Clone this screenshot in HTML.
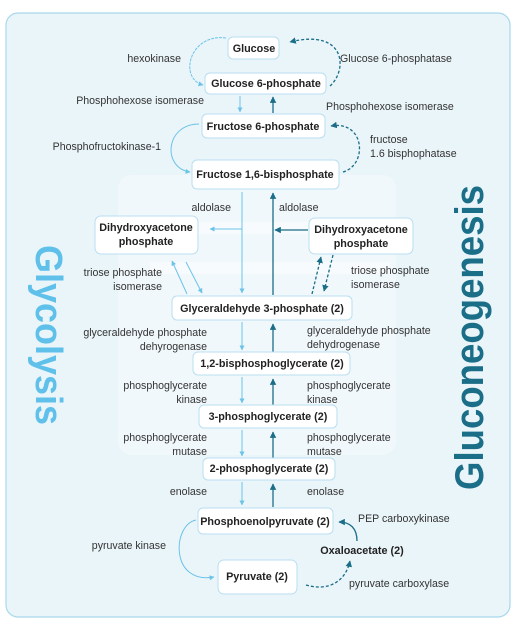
<!DOCTYPE html>
<html><head><meta charset="utf-8"><style>
html,body{margin:0;padding:0;background:#fff;}
svg{display:block;}
text{font-family:"Liberation Sans",sans-serif;fill:#333;}
.l{font-size:10.6px;}
.n{font-size:10.8px;font-weight:bold;fill:#222;}
.box{fill:#fff;stroke:#b9def0;stroke-width:1;}
.lt{stroke:#6cc3e8;stroke-width:1;fill:none;}
.dk{stroke:#1b6e87;stroke-width:1.3;fill:none;}
</style></head><body>
<svg width="517" height="625" viewBox="0 0 517 625" xmlns="http://www.w3.org/2000/svg">
<defs>
<marker id="al" markerWidth="5" markerHeight="5" refX="4.5" refY="2.5" orient="auto"><path d="M0,0 L5,2.5 L0,5 z" fill="#6cc3e8"/></marker>
<marker id="ad" markerWidth="5" markerHeight="5" refX="4.5" refY="2.5" orient="auto"><path d="M0,0 L5,2.5 L0,5 z" fill="#1b6e87"/></marker>
</defs>
<rect x="6" y="13" width="504" height="604" rx="12" fill="#eaf5fa" stroke="#a9d8ec" stroke-width="1.2"/>
<rect x="118" y="175" width="278" height="280" rx="14" fill="#f1f8fc"/>
<g fill="#f7fbfd"><rect x="150" y="222" width="240" height="12"/><rect x="150" y="262" width="240" height="12"/></g>

<text transform="translate(36,245) rotate(90)" font-size="38" font-weight="bold" style="fill:#5fc0ea" textLength="180" lengthAdjust="spacingAndGlyphs">Glycolysis</text>
<text transform="translate(483,490) rotate(-90)" font-size="40" font-weight="bold" style="fill:#1b6e87" textLength="305" lengthAdjust="spacingAndGlyphs">Gluconeogenesis</text>

<path class="lt" d="M226 38 C190 33,178 78,203 85" marker-end="url(#al)" stroke-dasharray="3 1"/>
<path class="dk" d="M330 86 C348 70,346 28,290 42" marker-end="url(#ad)" stroke-dasharray="3 2"/>
<line class="lt" x1="240" y1="96" x2="240" y2="112" marker-end="url(#al)"/>
<line class="dk" x1="273" y1="113" x2="273" y2="97" marker-end="url(#ad)"/>
<path class="lt" d="M199 124 C165 124,162 168,190 172" marker-end="url(#al)"/>
<path class="dk" d="M343 172 C368 165,365 120,331 126" marker-end="url(#ad)" stroke-dasharray="3 2"/>
<line class="lt" x1="242" y1="192" x2="242" y2="293" marker-end="url(#al)"/>
<line class="dk" x1="273" y1="295" x2="273" y2="193" marker-end="url(#ad)"/>
<line class="lt" x1="242" y1="229" x2="210" y2="229" marker-end="url(#al)"/>
<line class="dk" x1="308" y1="230" x2="275" y2="230" marker-end="url(#ad)"/>
<line class="lt" x1="187" y1="294" x2="172" y2="261" marker-end="url(#al)"/>
<line class="lt" x1="186" y1="262" x2="202" y2="293" marker-end="url(#al)"/>
<line class="dk" x1="312" y1="294" x2="321" y2="257" marker-end="url(#ad)" stroke-dasharray="3 2"/>
<line class="dk" x1="333" y1="255" x2="324" y2="291" marker-end="url(#ad)" stroke-dasharray="3 2"/>
<line class="lt" x1="242" y1="322" x2="242" y2="350" marker-end="url(#al)"/>
<line class="dk" x1="273" y1="352" x2="273" y2="324" marker-end="url(#ad)"/>
<line class="lt" x1="242" y1="377" x2="242" y2="403" marker-end="url(#al)"/>
<line class="dk" x1="273" y1="405" x2="273" y2="379" marker-end="url(#ad)"/>
<line class="lt" x1="242" y1="430" x2="242" y2="456" marker-end="url(#al)"/>
<line class="dk" x1="273" y1="458" x2="273" y2="432" marker-end="url(#ad)"/>
<line class="lt" x1="242" y1="482" x2="242" y2="505" marker-end="url(#al)"/>
<line class="dk" x1="273" y1="507" x2="273" y2="484" marker-end="url(#ad)"/>
<path class="lt" d="M196 520 C172 525,170 585,214 577" marker-end="url(#al)"/>
<path class="dk" d="M306 585 C330 592,346 580,350 561" marker-end="url(#ad)" stroke-dasharray="3 2"/>
<path class="dk" d="M357 541 C357 528,350 522,339 522" marker-end="url(#ad)"/>

<rect class="box" x="228" y="37" width="51" height="22" rx="5"/><text class="n" x="254" y="52" text-anchor="middle">Glucose</text>
<rect class="box" x="205" y="73" width="121" height="21" rx="5"/><text class="n" x="266" y="87" text-anchor="middle">Glucose 6-phosphate</text>
<rect class="box" x="202" y="114" width="123" height="24" rx="5"/><text class="n" x="263" y="130" text-anchor="middle">Fructose 6-phosphate</text>
<rect class="box" x="192" y="160" width="147" height="29" rx="5"/><text class="n" x="265" y="178" text-anchor="middle">Fructose 1,6-bisphosphate</text>
<rect class="box" x="95" y="216" width="103" height="38" rx="6"/><text class="n" x="146" y="231" text-anchor="middle">Dihydroxyacetone</text><text class="n" x="146" y="245" text-anchor="middle">phosphate</text>
<rect class="box" x="309" y="218" width="104" height="36" rx="6"/><text class="n" x="361" y="233" text-anchor="middle">Dihydroxyacetone</text><text class="n" x="361" y="247" text-anchor="middle">phosphate</text>
<rect class="box" x="172" y="296" width="180" height="24" rx="5"/><text class="n" x="262" y="312" text-anchor="middle">Glyceraldehyde 3-phosphate (2)</text>
<rect class="box" x="193" y="352" width="157" height="23" rx="5"/><text class="n" x="272" y="367" text-anchor="middle">1,2-bisphosphoglycerate (2)</text>
<rect class="box" x="199" y="405" width="138" height="23" rx="5"/><text class="n" x="268" y="420" text-anchor="middle">3-phosphoglycerate (2)</text>
<rect class="box" x="203" y="458" width="132" height="22" rx="5"/><text class="n" x="269" y="472" text-anchor="middle">2-phosphoglycerate (2)</text>
<rect class="box" x="198" y="508" width="135" height="26" rx="5"/><text class="n" x="265" y="525" text-anchor="middle">Phosphoenolpyruvate (2)</text>
<text class="n" x="362" y="554" text-anchor="middle">Oxaloacetate (2)</text>
<rect class="box" x="218" y="560" width="79" height="34" rx="6"/><text class="n" x="257" y="580" text-anchor="middle">Pyruvate (2)</text>

<text class="l" x="181" y="62" text-anchor="end">hexokinase</text>
<text class="l" x="340" y="62">Glucose 6-phosphatase</text>
<text class="l" x="204" y="104" text-anchor="end">Phosphohexose isomerase</text>
<text class="l" x="326" y="110">Phosphohexose isomerase</text>
<text class="l" x="161" y="150" text-anchor="end">Phosphofructokinase-1</text>
<text class="l" x="370" y="143">fructose</text>
<text class="l" x="370" y="157">1.6  bisphophatase</text>
<text class="l" x="231" y="211" text-anchor="end">aldolase</text>
<text class="l" x="279" y="211">aldolase</text>
<text class="l" x="162" y="276" text-anchor="end">triose phosphate</text>
<text class="l" x="162" y="290" text-anchor="end">isomerase</text>
<text class="l" x="351" y="274">triose phosphate</text>
<text class="l" x="351" y="288">isomerase</text>
<text class="l" x="207" y="336" text-anchor="end">glyceraldehyde phosphate</text>
<text class="l" x="207" y="350" text-anchor="end">dehyrogenase</text>
<text class="l" x="307" y="334">glyceraldehyde phosphate</text>
<text class="l" x="307" y="348">dehydrogenase</text>
<text class="l" x="207" y="389" text-anchor="end">phosphoglycerate</text>
<text class="l" x="207" y="403" text-anchor="end">kinase</text>
<text class="l" x="307" y="389">phosphoglycerate</text>
<text class="l" x="307" y="403">kinase</text>
<text class="l" x="207" y="441" text-anchor="end">phosphoglycerate</text>
<text class="l" x="207" y="455" text-anchor="end">mutase</text>
<text class="l" x="307" y="441">phosphoglycerate</text>
<text class="l" x="307" y="455">mutase</text>
<text class="l" x="207" y="495" text-anchor="end">enolase</text>
<text class="l" x="307" y="495">enolase</text>
<text class="l" x="358" y="522">PEP carboxykinase</text>
<text class="l" x="166" y="549" text-anchor="end">pyruvate kinase</text>
<text class="l" x="349" y="587">pyruvate carboxylase</text>
</svg>
</body></html>
